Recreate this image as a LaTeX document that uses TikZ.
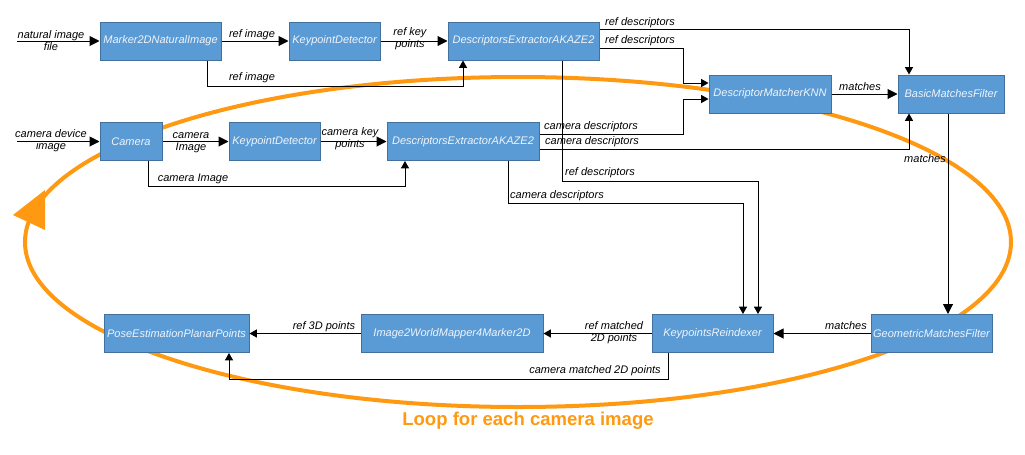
\documentclass[tikz,border=0pt]{standalone}
\usepackage{fontspec}
\setmainfont{Liberation Sans}
\usetikzlibrary{arrows.meta}
\definecolor{boxfill}{RGB}{91,155,213}
\definecolor{boxline}{RGB}{65,113,156}
\definecolor{boxtext}{RGB}{240,244,250}
\definecolor{loopor}{RGB}{255,153,17}
\tikzset{
  box/.style={draw=boxline, line width=0.75pt, fill=boxfill, text=boxtext,
    font=\itshape\fontsize{8.25}{9.5}\selectfont, inner sep=0pt, minimum height=38*0.75pt},
  lbl/.style={font=\itshape\fontsize{8.25}{9}\selectfont, align=center, inner sep=0pt, text=black},
  arrB/.style={draw=black, line width=0.75pt, -{Triangle[length=7.5pt,width=7.5pt]}},
  arrM/.style={draw=black, line width=0.75pt, -{Triangle[length=5.5pt,width=6pt]}},
}
\begin{document}
\begin{tikzpicture}[x=0.75pt,y=-0.75pt]
\useasboundingbox (0,0) rectangle (1025,454);
% loop
\draw[loopor, line width=3pt] (518,242) ellipse [x radius=369.75pt, y radius=123.75pt];
\fill[loopor] (13,215) -- (45,190) -- (45,230) -- cycle;
\node[font=\bfseries\fontsize{13.9}{15}\selectfont, text=loopor, inner sep=0pt] (looplbl) at (528,421) {Loop for each camera image};
% nodes
\node[box, minimum width=121*0.75pt] (m2d) at (160.5,41) {Marker2DNaturalImage};
\node[box, minimum width=91*0.75pt] (kd1) at (334.5,41) {KeypointDetector};
\node[box, minimum width=151*0.75pt] (de1) at (523.5,41) {DescriptorsExtractorAKAZE2};
\node[box, minimum width=122*0.75pt] (dmk) at (770,94) {DescriptorMatcherKNN};
\node[box, minimum width=106*0.75pt] (bmf) at (951,94) {BasicMatchesFilter};
\node[box, minimum width=62*0.75pt] (cam) at (131,141.5) {Camera};
\node[box, minimum width=91*0.75pt] (kd2) at (274.5,141.5) {KeypointDetector};
\node[box, minimum width=152*0.75pt] (de2) at (463,141.5) {DescriptorsExtractorAKAZE2};
\node[box, minimum width=145*0.75pt] (pose) at (176.5,333.5) {PoseEstimationPlanarPoints};
\node[box, minimum width=182*0.75pt] (i2w) at (452,333.5) {Image2WorldMapper4Marker2D};
\node[box, minimum width=121*0.75pt] (kr) at (712.5,333.5) {KeypointsReindexer};
\node[box, minimum width=121*0.75pt] (gmf) at (931.5,333.5) {GeometricMatchesFilter};
% free ends
\coordinate (in1) at (17,41);
\coordinate (in2) at (17,141.5);
% connectors
\draw[arrB] (in1) -- (m2d.west);
\draw[arrB] (m2d) -- (kd1);
\draw[arrM] (m2d.south -| 207,0) |- (463,86) -- (de1.south -| 463,0);
\draw[arrB] (kd1) -- (de1);
\draw[arrM] (de1.east |- 0,29) -| (bmf.north -| 909,0);
\draw[arrM] (de1.east |- 0,48) -| (683,83) -- (dmk.west |- 0,83);
\draw[arrM] (de1.south -| 562,0) |- (758,181) -- (kr.north -| 758,0);
\draw[arrB] (in2) -- (cam.west);
\draw[arrB] (cam) -- (kd2);
\draw[arrM] (cam.south -| 148,0) |- (405,186) -- (de2.south -| 405,0);
\draw[arrB] (kd2) -- (de2);
\draw[arrM] (de2.east |- 0,134) -| (683,99) -- (dmk.west |- 0,99);
\draw[arrM] (de2.east |- 0,149) -| (bmf.south -| 909,0);
\draw[arrM] (de2.south -| 508,0) |- (743,203) -- (kr.north -| 743,0);
\draw[arrB] (dmk) -- (bmf);
\draw[arrB] (bmf.south -| 948,0) -- (gmf.north -| 948,0);
\draw[arrB] (gmf) -- (kr);
\draw[arrM] (kr) -- (i2w);
\draw[arrM] (i2w) -- (pose);
\draw[arrM] (kr.south -| 668,0) |- (229,379) -- (pose.south -| 229,0);
% labels
\node[lbl] (l1) at (51,41) {natural image\\file};
\node[lbl] (l2) at (252,35) {ref image};
\node[lbl] (l3) at (252,78) {ref image};
\node[lbl] (l4) at (410,39) {ref key\\points};
\node[lbl] (l5) at (640,23) {ref descriptors};
\node[lbl] (l6) at (640,41) {ref descriptors};
\node[lbl] (l7) at (600,173) {ref descriptors};
\node[lbl] (l8) at (51,141) {camera device\\image};
\node[lbl] (l9) at (191,143) {camera\\Image};
\node[lbl] (l10) at (193,179) {camera Image};
\node[lbl] (l11) at (350,139) {camera key\\points};
\node[lbl] (l12) at (591,127) {camera descriptors};
\node[lbl] (l13) at (592,142) {camera descriptors};
\node[lbl] (l14) at (557,196) {camera descriptors};
\node[lbl] (l15) at (860,87) {matches};
\node[lbl] (l16) at (925,159) {matches};
\node[lbl] (l17) at (846,326) {matches};
\node[lbl] (l18) at (614,333) {ref matched\\2D points};
\node[lbl] (l19) at (324,327) {ref 3D points};
\node[lbl] (l20) at (595,371) {camera matched 2D points};
\end{tikzpicture}
\end{document}
